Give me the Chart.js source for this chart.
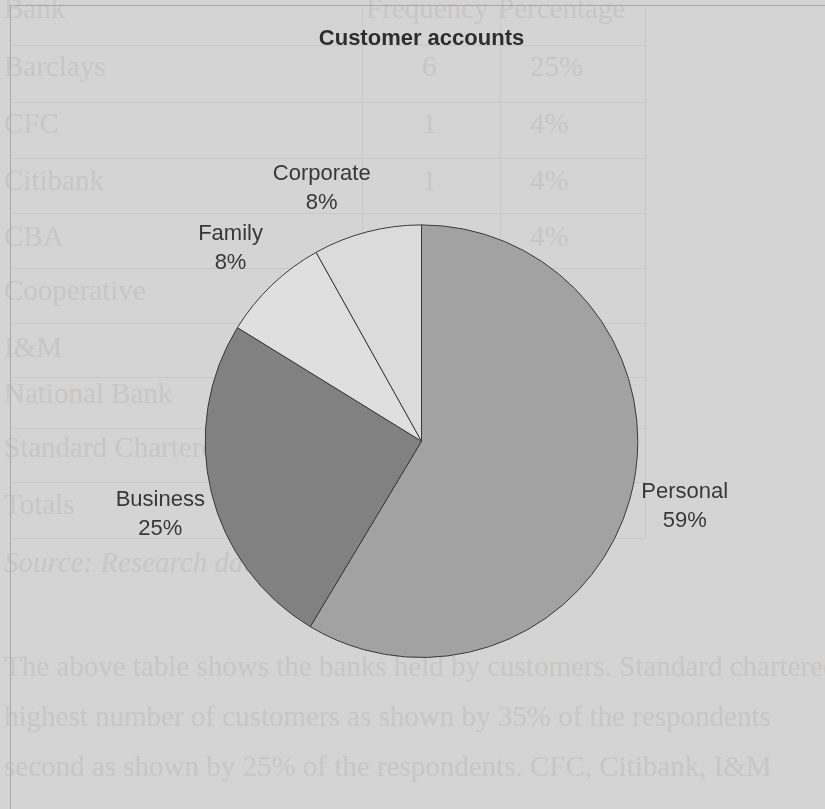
<!DOCTYPE html>
<html>
<head>
<meta charset="utf-8">
<script src="https://cdn.jsdelivr.net/npm/chart.js@4.4.1/dist/chart.umd.min.js"></script>
<style>
  html, body { margin: 0; padding: 0; }
  body { width: 825px; height: 809px; background: #d4d4d4; position: relative; overflow: hidden; }
  #bg { position: absolute; left: 0; top: 0; width: 825px; height: 809px; font-family: "Liberation Serif", "DejaVu Serif", serif; color: #c7c7c7; }
  #bg div.t { position: absolute; font-size: 29px; white-space: nowrap; line-height: 1; }
  #bg div.h { position: absolute; height: 1px; background: #c8c8c8; }
  #bg div.v { position: absolute; width: 1px; background: #c8c8c8; }
  #bg div.frame { background: #a9a9a9; }
  #c { position: absolute; left: 0; top: 0; }
</style>
</head>
<body>
<div id="bg"></div>
<canvas id="c" width="825" height="809"></canvas>
<script>
// ---- chart data ----
const categories = ["Personal", "Business", "Family", "Corporate"];
const shares = [58.6, 25.2, 8.1, 8.1];
const chartTitle = "Customer accounts";

// faint bleed-through text of the scanned page behind the chart
const pageRows = ["Bank", "Barclays", "CFC", "Citibank", "CBA", "Cooperative", "I&M", "National Bank", "Standard Chartered", "Totals"];
const pageFreq = ["Frequency", "6", "1", "1", "", "", "", "", "", ""];
const pagePct = ["Percentage", "25%", "4%", "4%", "4%", "", "", "", "", ""];
const pageSource = "Source: Research data";
const pageParagraph = [
  "The above table shows the banks held by customers. Standard chartered has the",
  "highest number of customers as shown by 35% of the respondents",
  "second as shown by 25% of the respondents. CFC, Citibank, I&M"
];

// ---- background page ----
(function () {
  const bg = document.getElementById('bg');
  function add(cls, style, text) {
    const d = document.createElement('div');
    d.className = cls;
    Object.assign(d.style, style);
    if (text !== undefined) d.textContent = text;
    bg.appendChild(d);
  }
  const rowTop = [-6, 52, 109, 166, 222, 276, 333, 379, 433, 490];
  pageRows.forEach((r, i) => {
    add('t', { left: '4px', top: rowTop[i] + 'px' }, r);
    if (pageFreq[i]) add('t', { left: (i === 0 ? 366 : 422) + 'px', top: rowTop[i] + 'px' }, pageFreq[i]);
    if (pagePct[i]) add('t', { left: (i === 0 ? 498 : 530) + 'px', top: rowTop[i] + 'px' }, pagePct[i]);
  });
  add('t', { left: '4px', top: '548px', fontStyle: 'italic' }, pageSource);
  [652, 702, 752].forEach((y, i) => add('t', { left: '4px', top: y + 'px' }, pageParagraph[i]));
  [45, 102, 158, 213, 268, 323, 377, 428, 482, 538].forEach(y => add('h', { left: '12px', top: y + 'px', width: '633px' }));
  [362, 500, 645].forEach(x => add('v', { left: x + 'px', top: '8px', height: '530px' }));
  add('h frame', { left: '10px', top: '5px', width: '815px' });
  add('v frame', { left: '10px', top: '5px', height: '804px' });
})();

// ---- outside labels plugin ----
const outsideLabels = {
  id: 'outsideLabels',
  afterDatasetsDraw(chart, args, opts) {
    const ctx = chart.ctx;
    const meta = chart.getDatasetMeta(0);
    const data = chart.data.datasets[0].data;
    const total = data.reduce((a, b) => a + b, 0);
    ctx.save();
    ctx.font = opts.font;
    ctx.fillStyle = opts.color;
    ctx.textAlign = 'center';
    ctx.textBaseline = 'middle';
    meta.data.forEach((arc, i) => {
      const p = arc.getProps(['x', 'y', 'startAngle', 'endAngle', 'outerRadius'], true);
      const mid = (p.startAngle + p.endAngle) / 2 + (opts.angleNudge[i] || 0) * Math.PI / 180;
      const r = p.outerRadius + opts.offset;
      const x = p.x + Math.cos(mid) * r;
      const y = p.y + Math.sin(mid) * r;
      const pct = Math.round(data[i] / total * 100) + '%';
      ctx.fillText(chart.data.labels[i], x, y - opts.lineGap / 2);
      ctx.fillText(pct, x, y + opts.lineGap / 2);
    });
    ctx.restore();
  }
};

new Chart(document.getElementById('c'), {
  type: 'pie',
  data: {
    labels: categories,
    datasets: [{
      data: shares,
      backgroundColor: ['#a2a2a2', '#818181', '#dfdfdf', '#dbdbdb'],
      borderColor: '#3a3a3a',
      borderWidth: 1,
      hoverOffset: 0
    }]
  },
  options: {
    responsive: false,
    animation: false,
    layout: { padding: { top: 26, bottom: 151, left: 100, right: 82 } },
    plugins: {
      legend: { display: false },
      tooltip: { enabled: false },
      title: {
        display: true,
        text: chartTitle,
        color: '#2e2e2e',
        font: { family: 'Liberation Sans, Arial, sans-serif', size: 22, weight: 'bold' },
        padding: { top: 0, bottom: 172 }
      },
      outsideLabels: {
        font: '22px "Liberation Sans", Arial, sans-serif',
        color: '#383838',
        offset: 55,
        lineGap: 29,
        angleNudge: [-1.5, -2, -1, -7]
      }
    }
  },
  plugins: [outsideLabels]
});
</script>
</body>
</html>
